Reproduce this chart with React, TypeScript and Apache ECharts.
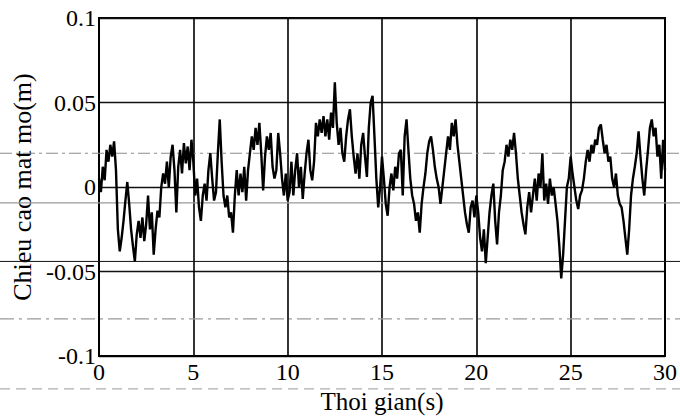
import React, { useEffect, useRef } from "react";
import * as echarts from "echarts";

// Time samples (s)
const timeS = [
  0, 0.1, 0.2, 0.3, 0.4, 0.5, 0.6, 0.7, 0.8, 0.9,
  1, 1.1, 1.2, 1.3, 1.4, 1.5, 1.6, 1.7, 1.8, 1.9,
  2, 2.1, 2.2, 2.3, 2.4, 2.5, 2.6, 2.7, 2.8, 2.9,
  3, 3.1, 3.2, 3.3, 3.4, 3.5, 3.6, 3.7, 3.8, 3.9,
  4, 4.1, 4.2, 4.3, 4.4, 4.5, 4.6, 4.7, 4.8, 4.9,
  5, 5.1, 5.2, 5.3, 5.4, 5.5, 5.6, 5.7, 5.8, 5.9,
  6, 6.1, 6.2, 6.3, 6.4, 6.5, 6.6, 6.7, 6.8, 6.9,
  7, 7.1, 7.2, 7.3, 7.4, 7.5, 7.6, 7.7, 7.8, 7.9,
  8, 8.1, 8.2, 8.3, 8.4, 8.5, 8.6, 8.7, 8.8, 8.9,
  9, 9.1, 9.2, 9.3, 9.4, 9.5, 9.6, 9.7, 9.8, 9.9,
  10, 10.1, 10.2, 10.3, 10.4, 10.5, 10.6, 10.7, 10.8, 10.9,
  11, 11.1, 11.2, 11.3, 11.4, 11.5, 11.6, 11.7, 11.8, 11.9,
  12, 12.1, 12.2, 12.3, 12.4, 12.5, 12.6, 12.7, 12.8, 12.9,
  13, 13.1, 13.2, 13.3, 13.4, 13.5, 13.6, 13.7, 13.8, 13.9,
  14, 14.1, 14.2, 14.3, 14.4, 14.5, 14.6, 14.7, 14.8, 14.9,
  15, 15.1, 15.2, 15.3, 15.4, 15.5, 15.6, 15.7, 15.8, 15.9,
  16, 16.1, 16.2, 16.3, 16.4, 16.5, 16.6, 16.7, 16.8, 16.9,
  17, 17.1, 17.2, 17.3, 17.4, 17.5, 17.6, 17.7, 17.8, 17.9,
  18, 18.1, 18.2, 18.3, 18.4, 18.5, 18.6, 18.7, 18.8, 18.9,
  19, 19.1, 19.2, 19.3, 19.4, 19.5, 19.6, 19.7, 19.8, 19.9,
  20, 20.1, 20.2, 20.3, 20.4, 20.5, 20.6, 20.7, 20.8, 20.9,
  21, 21.1, 21.2, 21.3, 21.4, 21.5, 21.6, 21.7, 21.8, 21.9,
  22, 22.1, 22.2, 22.3, 22.4, 22.5, 22.6, 22.7, 22.8, 22.9,
  23, 23.1, 23.2, 23.3, 23.4, 23.5, 23.6, 23.7, 23.8, 23.9,
  24, 24.1, 24.2, 24.3, 24.4, 24.5, 24.6, 24.7, 24.8, 24.9,
  25, 25.1, 25.2, 25.3, 25.4, 25.5, 25.6, 25.7, 25.8, 25.9,
  26, 26.1, 26.2, 26.3, 26.4, 26.5, 26.6, 26.7, 26.8, 26.9,
  27, 27.1, 27.2, 27.3, 27.4, 27.5, 27.6, 27.7, 27.8, 27.9,
  28, 28.1, 28.2, 28.3, 28.4, 28.5, 28.6, 28.7, 28.8, 28.9,
  29, 29.1, 29.2, 29.3, 29.4, 29.5, 29.6, 29.7, 29.8, 29.9,
  30,
];

// Surface elevation (mm)
const heightMm = [
  5, -3, 12, 4, 22, 15, 25, 18, 27, 10,
  -25, -38, -30, -20, -8, 3, -10, -25, -35, -44,
  -28, -20, -30, -18, -32, -22, -5, -25, -15, -40,
  -25, -14, -18, 0, 8, 2, 15, 0, 18, 25,
  10, -15, 12, 22, 8, 26, 14, 24, 10, 28,
  15, -5, 5, -12, -20, -5, 2, -8, 10, 20,
  5, -8, -3, 20, 40, 15, -5, -12, -5, -18,
  -15, -27, -5, 10, -5, 8, -3, 12, -8, 10,
  20, 30, 22, 35, 25, 38, 20, -2, 18, 30,
  22, 32, 12, 5, 10, 32, 20, 5, -5, 8,
  -8, -3, 15, -5, 10, 20, 0, 12, -7, 8,
  20, 28, 10, 4, 15, 38, 30, 40, 32, 42,
  30, 40, 28, 44, 35, 62, 38, 25, 35, 20,
  15, 30, 40, 46, 30, 18, 8, 20, 5, 25,
  32, 18, 6, 35, 50, 54, 30, 5, -12, 0,
  18, 5, -10, -17, 0, 8, -2, 12, 5, 20,
  22, -5, 30, 40, 22, 5, -5, -10, -20, -15,
  -27, -10, 0, 8, 20, 27, 30, 22, 12, 5,
  0, -10, 0, 10, 20, 30, 22, 38, 30, 40,
  25, 15, 5, -5, -15, -22, -27, -12, -8, -18,
  -5, -15, -30, -38, -25, -45, -30, -15, -5, 2,
  -20, -34, -15, -5, 10, 15, 25, 18, 28, 22,
  32, 20, 5, -5, -15, -22, -28, -12, -3, -15,
  -5, 5, -8, 8, 0, 20, -8, 2, -10, 5,
  -5, 0, -10, -20, -35, -54, -40, -20, 0, 5,
  18, 8, 0, -8, -13, -5, -2, 5, 15, 22,
  15, 25, 20, 28, 25, 35, 37, 28, 20, 25,
  15, 18, 5, 0, 8, -5, -10, -12, -20, -30,
  -40, -25, -5, 5, 12, 20, 33, 18, 5, -5,
  10, 22, 35, 40, 30, 35, 18, 25, 5, 28,
  10,
];

const xTickLabels = ["0", "5", "10", "15", "20", "25", "30"];
const yTickLabels = ["-0.1", "-0.05", "0", "0.05", "0.1"];

// Faint ruled lines of the scanned page (value on the y axis)
const scanLineLevels = [0.02, -0.0094, -0.044, -0.078, -0.1194];
const scanLineStyles = [
  { stroke: "#8c8c8c", lineWidth: 1.2, lineDash: [12, 4, 3, 4] },
  { stroke: "#9a9a9a", lineWidth: 1.2, lineDash: null },
  { stroke: "#111111", lineWidth: 1, lineDash: null },
  { stroke: "#9a9a9a", lineWidth: 1.2, lineDash: [14, 5, 3, 5] },
  { stroke: "#9a9a9a", lineWidth: 1, lineDash: [10, 6] },
];

const FONT = "Liberation Serif";

export default function App() {
  const ref = useRef<HTMLDivElement>(null);

  useEffect(() => {
    if (!ref.current) return;
    const chart = echarts.init(ref.current, null, { renderer: "svg" });
    const seriesData = timeS.map((t, i) => [t, heightMm[i] / 1000]);

    chart.setOption({
      animation: false,
      backgroundColor: "#ffffff",
      textStyle: { fontFamily: FONT, color: "#000" },
      grid: {
        left: 99,
        right: 15,
        top: 18,
        bottom: 62,
        show: true,
        borderColor: "#000",
        borderWidth: 2,
        containLabel: false,
      },
      xAxis: {
        type: "value",
        min: 0,
        max: 30,
        interval: 5,
        name: "Thoi gian(s)",
        nameLocation: "middle",
        nameGap: 28,
        nameTextStyle: { fontFamily: FONT, fontSize: 25, color: "#000" },
        axisLine: { show: true, onZero: false, lineStyle: { color: "#000", width: 2 } },
        axisTick: { show: false },
        axisLabel: {
          fontFamily: FONT,
          fontSize: 24,
          color: "#000",
          margin: 4,
          formatter: (_v: number, i: number) => xTickLabels[i] ?? "",
        },
        splitLine: { show: true, lineStyle: { color: "#000", width: 1.6 } },
      },
      yAxis: {
        type: "value",
        min: -0.1,
        max: 0.1,
        interval: 0.05,
        name: "Chieu cao mat mo(m)",
        nameLocation: "middle",
        nameGap: 62,
        nameTextStyle: { fontFamily: FONT, fontSize: 26, color: "#000" },
        axisLine: { show: true, lineStyle: { color: "#000", width: 2 } },
        axisTick: { show: false },
        axisLabel: {
          fontFamily: FONT,
          fontSize: 24,
          color: "#000",
          margin: 3,
          formatter: (_v: number, i: number) => yTickLabels[i] ?? "",
        },
        splitLine: { show: true, lineStyle: { color: "#111", width: 1.4 } },
      },
      series: [
        {
          type: "line",
          data: seriesData,
          showSymbol: false,
          symbol: "none",
          lineStyle: { color: "#000", width: 2.4 },
          z: 3,
        },
      ],
    });

    const w = chart.getWidth();
    const graphics = scanLineLevels.map((lvl, i) => {
      const y = chart.convertToPixel({ yAxisIndex: 0 }, lvl) as number;
      const s = scanLineStyles[i];
      return {
        type: "line",
        silent: true,
        z: 1,
        shape: { x1: 0, y1: y, x2: w, y2: y },
        style: { stroke: s.stroke, lineWidth: s.lineWidth, lineDash: s.lineDash },
      };
    });
    chart.setOption({ graphic: graphics });

    return () => chart.dispose();
  }, []);

  return (
    <div
      ref={ref}
      style={{ position: "fixed", left: 0, top: 0, width: 680, height: 419, background: "#fff" }}
    />
  );
}
